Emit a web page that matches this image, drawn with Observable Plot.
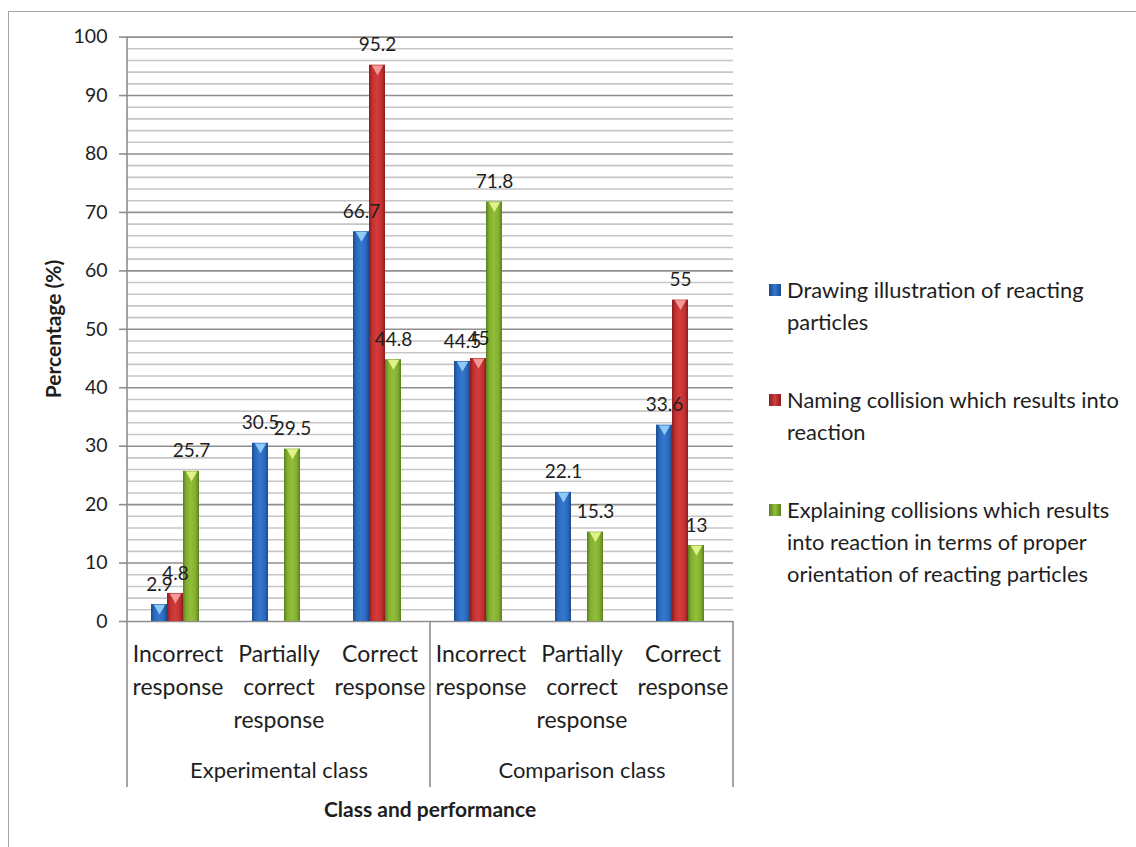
<!DOCTYPE html>
<html>
<head>
<meta charset="utf-8">
<script src="https://cdn.jsdelivr.net/npm/d3@7"></script>
<script src="https://cdn.jsdelivr.net/npm/@observablehq/plot@0.6"></script>
<style>
  html, body { margin: 0; padding: 0; background: #ffffff; }
  #wrap { position: relative; width: 1136px; height: 847px; overflow: hidden; font-family: Lato, "Open Sans", sans-serif; color: #1e1e1e; }
  #border { position: absolute; left: 8px; top: 11px; width: 1300px; height: 1000px; border: 1.5px solid #a3a3a3; box-sizing: border-box; }
  #chart { position: absolute; left: 0; top: 0; }
  .title { position: absolute; font-weight: bold; font-size: 21px; white-space: nowrap; }
  #ytitle { left: 52px; top: 329px; transform: translate(-50%, -50%) rotate(-90deg); }
  #xtitle { left: 430px; top: 808px; transform: translate(-50%, -50%); }
  #legend { position: absolute; left: 769px; top: 0; }
  .entry { position: absolute; left: 0; width: 360px; font-size: 21.9px; line-height: 32px; padding-left: 18px; white-space: nowrap; }
  .swatch { position: absolute; left: 0; top: 10px; width: 12px; height: 12px; }
</style>
</head>
<body>
<div id="wrap">
  <div id="border"></div>
  <div id="chart"></div>
  <div id="ytitle" class="title">Percentage (%)</div>
  <div id="xtitle" class="title">Class and performance</div>
  <div id="legend"></div>
</div>
<script>
// ---- data ----
const groups = ["Experimental class", "Comparison class"];
const categories = ["Incorrect response", "Partially correct response", "Correct response"];
const categoryLabels = ["Incorrect\nresponse", "Partially\ncorrect\nresponse", "Correct\nresponse"];
const series = [
  "Drawing illustration of reacting particles",
  "Naming collision which results into reaction",
  "Explaining collisions which results into reaction in terms of proper orientation of reacting particles"
];
const legendLines = [
  ["Drawing illustration  of reacting", "particles"],
  ["Naming collision which results into", "reaction"],
  ["Explaining collisions  which results", "into reaction in terms of proper", "orientation of reacting particles"]
];
// values in order: Experimental (Incorrect, Partially, Correct), Comparison (Incorrect, Partially, Correct)
const drawingValues = [2.9, 30.5, 66.7, 44.5, 22.1, 33.6];
const namingValues = [4.8, 0, 95.2, 45, 0, 55];
const explainingValues = [25.7, 29.5, 44.8, 71.8, 15.3, 13];
const yTicks = [0, 10, 20, 30, 40, 50, 60, 70, 80, 90, 100];
const yMinorTicks = [2, 4, 6, 8, 12, 14, 16, 18, 22, 24, 26, 28, 32, 34, 36, 38, 42, 44, 46, 48, 52, 54, 56, 58, 62, 64, 66, 68, 72, 74, 76, 78, 82, 84, 86, 88, 92, 94, 96, 98];

// ---- styling ----
const gradIds = ["gBlue", "gRed", "gGreen"];
const gradStops = [
  ["#1b4a8c", "#2b69bd", "#3479cf", "#2b69bd", "#1b4a8c"],
  ["#8a1c1c", "#c23030", "#d43c3c", "#c23030", "#8a1c1c"],
  ["#587f1e", "#83ad30", "#92bf3a", "#83ad30", "#587f1e"]
];
const capColors = ["#8fcaf6", "#f29a9a", "#e2f28a"];

// ---- table ----
const allValues = [drawingValues, namingValues, explainingValues];
const keys = [];
const rows = [];
groups.forEach((g, gi) => {
  categories.forEach((c, ci) => {
    const k = gi * categories.length + ci;
    const key = g + "|" + c;
    keys.push(key);
    series.forEach((s, si) => {
      rows.push({key, group: g, category: c, catIndex: ci, series: s, si, value: allValues[si][k]});
    });
  });
});
const labelOf = new Map(keys.map(k => [k, categoryLabels[categories.indexOf(k.split("|")[1])]]));
const groupLabelRows = groups.map(g => ({key: g + "|" + categories[1], label: g}));
const nonZero = rows.filter(d => d.value > 0);

const chart = Plot.plot({
  width: 1136,
  height: 847,
  marginLeft: 125,
  marginRight: 401,
  marginTop: 36.6,
  marginBottom: 226,
  style: {fontFamily: "Lato, 'Open Sans', sans-serif", color: "#1e1e1e", background: "transparent", overflow: "visible"},
  fx: {domain: keys, padding: 0, axis: null},
  x: {domain: series, paddingInner: 0, paddingOuter: 1.5, align: 0.45, axis: null},
  y: {domain: [0, 100], axis: null},
  color: {domain: series, range: gradIds.map(id => `url(#${id})`)},
  marks: [
    Plot.ruleY(yMinorTicks, {stroke: "#c6c6c6", strokeWidth: 1.6}),
    Plot.ruleY(yTicks, {stroke: "#8e8e8e", strokeWidth: 1.6}),
    Plot.axisY({ticks: yTicks, tickSize: 8, tickPadding: 12, fontSize: 19.5, stroke: "#8e8e8e", fill: "#1e1e1e", strokeWidth: 1.6, label: null}),
    Plot.barY(rows, {fx: "key", x: "series", y: "value", fill: "series"}),
    Plot.dot(nonZero, {fx: "key", x: "series", y: "value", symbol: "triangle", rotate: 180, r: 4.2, dy: 3.5,
      fill: d => capColors[d.si], stroke: "none"}),
    Plot.text(nonZero, {fx: "key", x: "series", y: "value", text: d => String(d.value), dy: -20, fontSize: 19, fill: "#1e1e1e"}),
    Plot.axisFx({anchor: "bottom", tickFormat: k => labelOf.get(k), tickSize: 0, tickPadding: 17, fontSize: 23, lineHeight: 1.43, fill: "#1e1e1e", label: null}),
    Plot.text(groupLabelRows, {fx: "key", text: "label", frameAnchor: "bottom", dy: 156, fontSize: 22, fill: "#1e1e1e"})
  ]
});
document.getElementById("chart").appendChild(chart);

// gradients
const svg = d3.select(chart);
const defs = svg.insert("defs", ":first-child");
gradIds.forEach((id, i) => {
  const lg = defs.append("linearGradient").attr("id", id).attr("x1", "0").attr("x2", "1").attr("y1", "0").attr("y2", "0");
  const offs = [0, 0.2, 0.5, 0.8, 1];
  gradStops[i].forEach((c, j) => lg.append("stop").attr("offset", offs[j]).attr("stop-color", c));
});

// axis line and category separators, positioned with the plot's own scales
const fxs = chart.scale("fx");
const ys = chart.scale("y");
const y0 = ys.apply(0), yTop = ys.apply(100);
const sepBottom = y0 + 166;
const lines = [
  {x: fxs.apply(keys[0]), y1: yTop, y2: sepBottom},
  {x: fxs.apply(keys[3]), y1: y0, y2: sepBottom},
  {x: fxs.apply(keys[5]) + fxs.bandwidth, y1: y0, y2: sepBottom}
];
svg.append("g").selectAll("line").data(lines).join("line")
  .attr("x1", d => d.x).attr("x2", d => d.x)
  .attr("y1", d => d.y1).attr("y2", d => d.y2)
  .attr("stroke", "#8e8e8e").attr("stroke-width", 1.6);

// legend
const legend = document.getElementById("legend");
const entryTops = [274, 384, 494];
const swatchGrad = gradStops.map(s => `linear-gradient(to right, ${s[0]}, ${s[2]} 50%, ${s[4]})`);
series.forEach((s, i) => {
  const e = document.createElement("div");
  e.className = "entry";
  e.style.top = entryTops[i] + "px";
  e.innerHTML = `<span class="swatch" style="background:${swatchGrad[i]}"></span>` + legendLines[i].join("<br>");
  legend.appendChild(e);
});
</script>
</body>
</html>
